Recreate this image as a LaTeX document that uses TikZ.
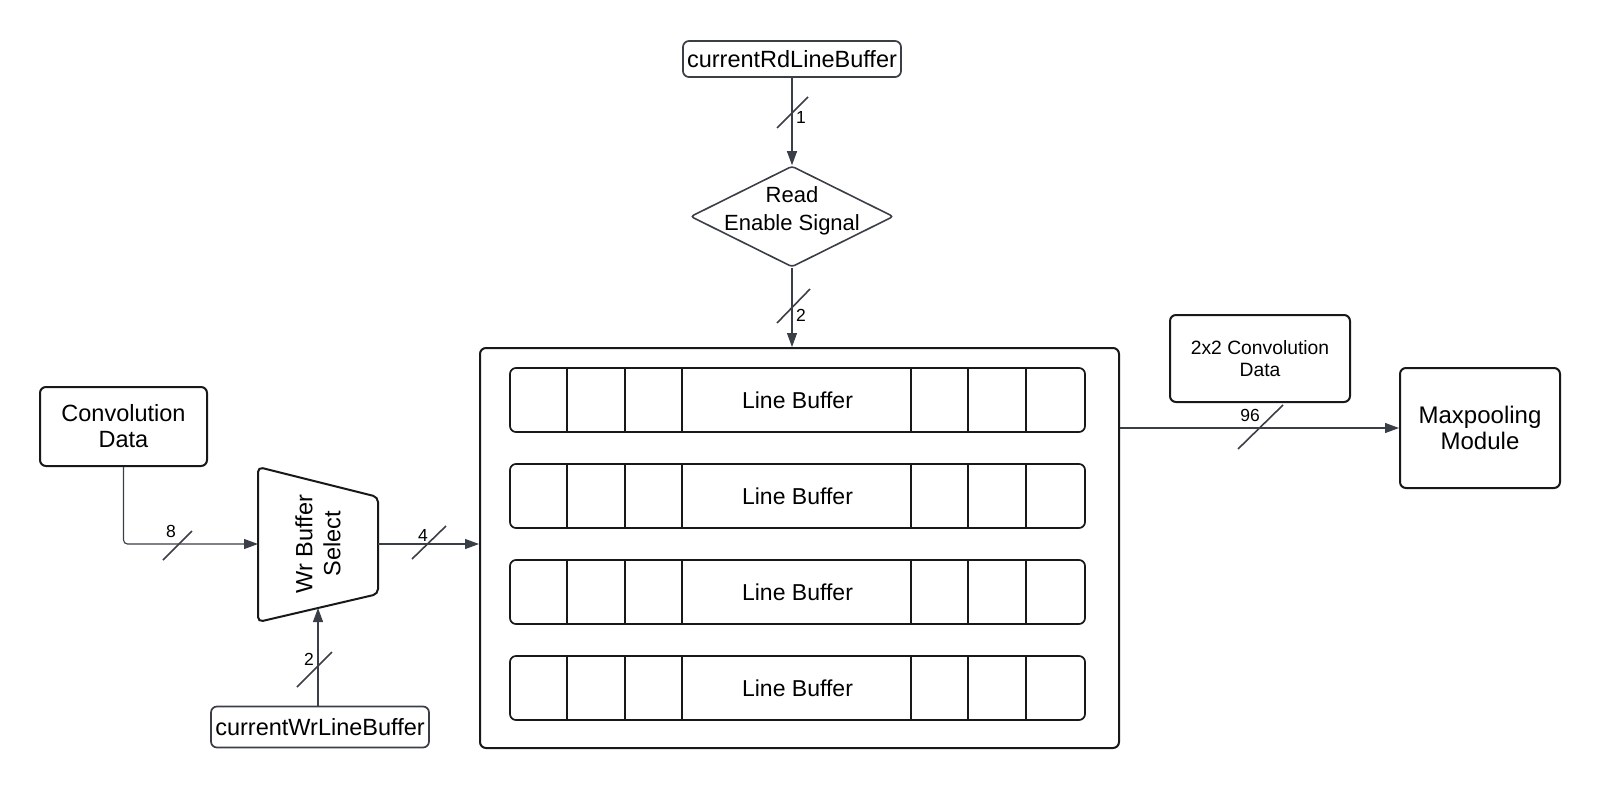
\documentclass[tikz,border=0pt]{standalone}
\usepackage{fontspec}
\setmainfont{Liberation Sans}
\usetikzlibrary{arrows.meta,shapes.geometric,calc}

\definecolor{wirecol}{RGB}{58,62,70}
\definecolor{edgecol}{RGB}{24,24,26}

\tikzset{
  box/.style={draw=edgecol, line width=2pt, rounded corners=6pt, align=center, inner sep=0pt},
  sigbox/.style={box, draw=wirecol, line width=1.7pt, font=\fontsize{23.5}{27}\selectfont},
  lbuf/.style={box, line width=1.7pt, minimum width=575pt, minimum height=64pt, font=\fontsize{23}{26}\selectfont},
  wire/.style={draw=wirecol, line width=1.1pt, -{Triangle[length=14pt,width=10pt]}},
  busmark/.style={draw=wirecol, line width=1.6pt},
  buslbl/.style={font=\fontsize{17.5}{20}\selectfont, inner sep=1pt},
}

\begin{document}
\begin{tikzpicture}[x=1pt,y=-1pt]
\useasboundingbox (0,0) rectangle (1600,788);

% read side
\node[sigbox, minimum width=218pt, minimum height=36pt] (rdbuf) at (792,59) {currentRdLineBuffer};
\node[diamond, draw=wirecol, line width=1.6pt, rounded corners=3pt, inner sep=0pt,
  minimum width=203pt, minimum height=101pt,
  label={[font=\fontsize{22}{28}\selectfont, align=center, yshift=6pt]center:Read\\Enable Signal}] (rden) at (792,216.5) {};

% write side
\node[box, minimum width=167pt, minimum height=79pt, font=\fontsize{23.5}{26}\selectfont] (convdata) at (123.5,426.5) {Convolution\\Data};
\draw[draw=edgecol, line width=2pt, rounded corners=5pt] (258,467) -- (378,497) -- (378,594) -- (258,622) -- cycle;
\node[rotate=90, align=center, font=\fontsize{23.5}{28}\selectfont] (wrsel) at (318,544) {Wr Buffer\\Select};
\coordinate (wrin) at (258,544);
\coordinate (wrout) at (378,544);
\coordinate (wrbot) at (318,608);
\node[sigbox, minimum width=218pt, minimum height=41pt] (wrbuf) at (320,727) {currentWrLineBuffer};

% line buffer memory
\node[box, minimum width=639pt, minimum height=400pt] (lbmem) at (799.5,548) {};
\foreach \i in {0,...,3} {
  \node[lbuf] (lb\i) at (797.5,400+96*\i) {Line Buffer};
  \foreach \d in {58,116,173,402,459,517}
    \draw[draw=edgecol, line width=1.6pt] ($(lb\i.north west)+(\d,0)$) -- ($(lb\i.south west)+(\d,0)$);
}

% output side
\node[box, minimum width=180pt, minimum height=87pt, font=\fontsize{19.3}{22}\selectfont] (conv2) at (1260,358.5) {2x2 Convolution\\Data};
\node[box, minimum width=160pt, minimum height=120pt, font=\fontsize{24}{26}\selectfont] (maxpool) at (1480,428) {Maxpooling\\Module};

% connectors
\draw[wire] (rdbuf) -- (rden);
\draw[wire] (rden.south) -- (rden.south |- lbmem.north);
\draw[wire, rounded corners=4pt] (convdata.south) |- (wrin);
\draw[wire] (wrout) -- (wrout -| lbmem.west);
\draw[wire] (wrbuf.north -| wrbot) -- (wrbot);
\draw[wire] (maxpool.west -| lbmem.east) -- (maxpool.west);

% bus widths
\draw[busmark] (777,128) -- (808,97);
\node[buslbl, anchor=west] (w1) at (795,117) {1};
\draw[busmark] (777,323) -- (810,289);
\node[buslbl, anchor=west] (w2) at (795,315) {2};
\draw[busmark] (163,560) -- (192,531);
\node[buslbl, anchor=south] (w8) at (171,539) {8};
\draw[busmark] (412,559) -- (446,526);
\node[buslbl, anchor=south] (w4) at (423,543) {4};
\draw[busmark] (297,687) -- (332,652);
\node[buslbl, anchor=east] (w2b) at (315,659) {2};
\draw[busmark] (1238,449) -- (1283,405);
\node[buslbl, anchor=south] (w96) at (1250,423) {96};
\end{tikzpicture}
\end{document}
